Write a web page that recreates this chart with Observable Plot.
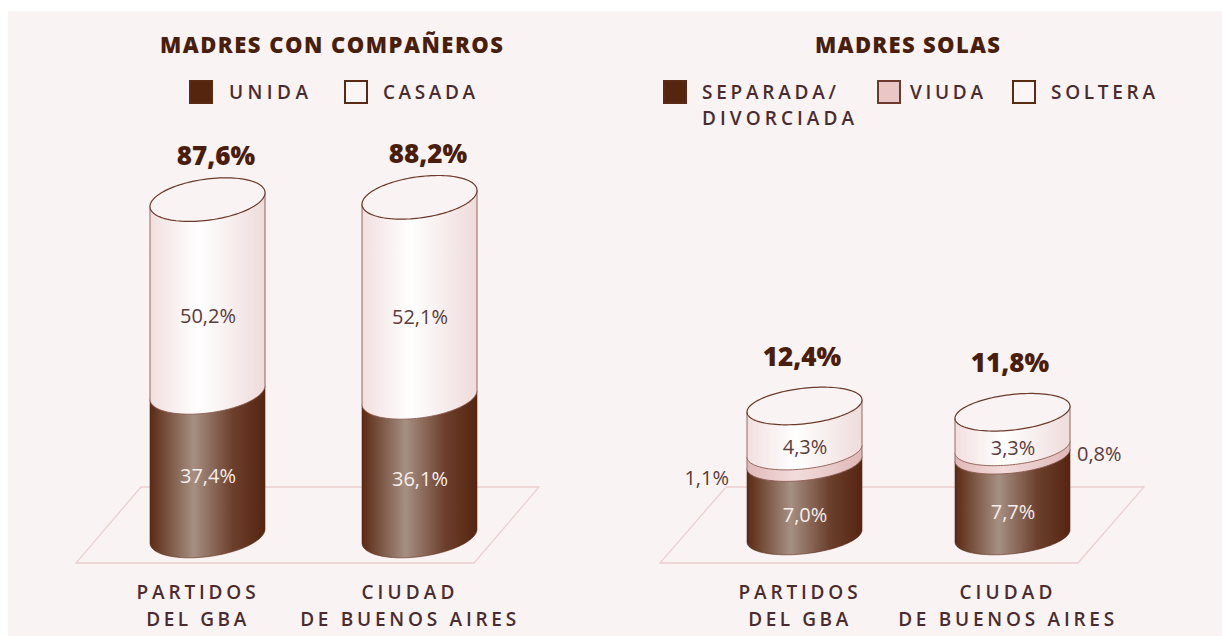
<!DOCTYPE html>
<html><head><meta charset="utf-8">
<script src="https://cdn.jsdelivr.net/npm/d3@7"></script>
<script src="https://cdn.jsdelivr.net/npm/@observablehq/plot@0.6"></script>
<style>
html,body{margin:0;padding:0;background:#fff;width:1222px;height:636px;overflow:hidden;font-family:"Open Sans",sans-serif;}
#wrap{position:absolute;left:8px;top:11px;width:1214px;height:625px;background:#f9f3f3;}
.panel{position:absolute;top:0;height:625px;}
.header{position:relative;height:124px;}
.title{position:absolute;font-weight:800;font-size:22px;color:#4a1e0c;white-space:nowrap;line-height:24px;}
.sq{position:absolute;width:24px;height:24px;box-sizing:border-box;border:2px solid #5a2a14;}
.lt{position:absolute;font-weight:600;font-size:19px;color:#4a2c30;white-space:nowrap;line-height:22px;}
</style></head>
<body>
<div id="wrap">
  <div class="panel" id="pL" style="left:0;width:603px;">
    <div class="header">
      <div class="title" data-w="343" style="left:152px;top:21px;">MADRES CON COMPAÑEROS</div>
      <div class="sq" style="left:181px;top:69px;background:#55250e;"></div>
      <div class="lt" data-w="79" style="left:221px;top:70px;">UNIDA</div>
      <div class="sq" style="left:336px;top:69px;background:#fbf5f5;"></div>
      <div class="lt" data-w="92" style="left:375px;top:70px;">CASADA</div>
    </div>
  </div>
  <div class="panel" id="pR" style="left:603px;width:611px;">
    <div class="header">
      <div class="title" data-w="185" style="left:204px;top:21px;">MADRES SOLAS</div>
      <div class="sq" style="left:52px;top:69px;background:#55250e;"></div>
      <div class="lt" data-w="134" style="left:91px;top:70px;">SEPARADA/</div>
      <div class="lt" data-w="152" style="left:91px;top:96px;">DIVORCIADA</div>
      <div class="sq" style="left:266px;top:69px;background:#e9c7c7;border-color:#6b3a2a;"></div>
      <div class="lt" data-w="73" style="left:299px;top:70px;">VIUDA</div>
      <div class="sq" style="left:401px;top:69px;background:#fbf5f5;"></div>
      <div class="lt" data-w="104" style="left:440px;top:70px;">SOLTERA</div>
    </div>
  </div>
</div>
<script>
// ---------------- DATA ----------------
const categories = ["PARTIDOS\nDEL GBA", "CIUDAD\nDE BUENOS AIRES"];

// Madres con compañeros
const companerosSeries = ["UNIDA", "CASADA"];
const companerosUnida = [37.4, 36.1];
const companerosCasada = [50.2, 52.1];
const companerosTotal = [87.6, 88.2];

// Madres solas
const solasSeries = ["SEPARADA/DIVORCIADA", "VIUDA", "SOLTERA"];
const solasSeparada = [7.0, 7.7];
const solasViuda = [1.1, 0.8];
const solasSoltera = [4.3, 3.3];
const solasTotal = [12.4, 11.8];

// ---------------- HELPERS ----------------
const fmt = v => v.toFixed(1).replace(".", ",") + "%";
const NS = "http://www.w3.org/2000/svg";
const el = n => document.createElementNS(NS, n);

const kindOf = {"UNIDA": "brown", "CASADA": "white", "SEPARADA/DIVORCIADA": "brown", "VIUDA": "pink", "SOLTERA": "white"};
const gradStops = {
  brown: [[0, "#5b2a14"], [0.38, "#a68f82"], [0.72, "#6c3f2d"], [1, "#55250f"]],
  white: [[0, "#f2dfdf"], [0.42, "#ffffff"], [1, "#efdbdb"]],
  pink: [[0, "#e1b9b9"], [0.42, "#f3dcdc"], [1, "#e0b8b8"]]
};
// measured widths (px) of the category label lines in the original
const lineWidths = {"PARTIDOS": 119, "DEL GBA": 100, "CIUDAD": 93, "DE BUENOS AIRES": 216};

function makeRows(series, arrays) {
  const rows = [];
  const base = categories.map(() => 0);
  series.forEach((s, si) => {
    categories.forEach((c, ci) => {
      const v = arrays[si][ci];
      rows.push({cat: c, ci, serie: s, kind: kindOf[s], value: v, mid: base[ci] + v / 2});
      base[ci] += v;
    });
  });
  return rows;
}

function ellipsePts(xc, cy, a, b, ka, t0, t1, n) {
  const pts = [];
  for (let s = 0; s <= n; s++) {
    const t = t0 + (t1 - t0) * s / n;
    pts.push([xc + a * Math.cos(t), cy - ka * Math.cos(t) + b * Math.sin(t)]);
  }
  return pts;
}
const pathOf = pts => "M" + pts.map(q => q[0].toFixed(2) + "," + q[1].toFixed(2)).join("L") + "Z";

function rectBox(r) {
  return {x: +r.getAttribute("x"), y: +r.getAttribute("y"), w: +r.getAttribute("width"), h: +r.getAttribute("height")};
}

function cylinderRender(cfg, rows) {
  return function(index, scales, values, dimensions, context, next) {
    const g = next(index, scales, values, dimensions, context);
    const defs = el("defs");
    for (const [k, stops] of Object.entries(gradStops)) {
      const lg = el("linearGradient");
      lg.setAttribute("id", cfg.id + "-" + k);
      lg.setAttribute("x1", "0"); lg.setAttribute("x2", "1"); lg.setAttribute("y1", "0"); lg.setAttribute("y2", "0");
      for (const [o, c] of stops) {
        const st = el("stop");
        st.setAttribute("offset", o); st.setAttribute("stop-color", c);
        lg.appendChild(st);
      }
      defs.appendChild(lg);
    }
    g.insertBefore(defs, g.firstChild);
    Array.from(g.querySelectorAll("rect")).forEach((r, j) => {
      const d = rows[index[j]];
      const {x, y, w, h} = rectBox(r);
      const a = w / 2, xc = x + a, b = a * cfg.bRatio, ka = cfg.k * a;
      const pts = [[x, y + ka], [x + w, y - ka]].concat(ellipsePts(xc, y + h, a, b, ka, 0, Math.PI, 60));
      const p = el("path");
      p.setAttribute("d", pathOf(pts));
      p.setAttribute("fill", `url(#${cfg.id}-${d.kind})`);
      if (d.kind !== "brown") { p.setAttribute("stroke", "#8a5a4e"); p.setAttribute("stroke-width", "0.9"); }
      else { p.setAttribute("stroke", "#5a2a14"); p.setAttribute("stroke-width", "0.6"); }
      r.replaceWith(p);
    });
    return g;
  };
}

function topRender(cfg) {
  return function(index, scales, values, dimensions, context, next) {
    const g = next(index, scales, values, dimensions, context);
    Array.from(g.querySelectorAll("rect")).forEach(r => {
      const {x, y, w} = rectBox(r);
      const a = w / 2, xc = x + a, b = a * cfg.bRatio, ka = cfg.k * a;
      const p = el("path");
      p.setAttribute("d", pathOf(ellipsePts(xc, y, a, b, ka, 0, 2 * Math.PI, 120)));
      p.setAttribute("fill", "#faf3f3");
      p.setAttribute("stroke", "#6b3a2a");
      p.setAttribute("stroke-width", "1.2");
      r.replaceWith(p);
    });
    return g;
  };
}

function floorRender(cfg) {
  return function(index, scales, values, dimensions, context, next) {
    const g = next(index, scales, values, dimensions, context);
    const boxes = Array.from(g.querySelectorAll("rect")).map(rectBox);
    const minX = Math.min(...boxes.map(b => b.x));
    const maxX = Math.max(...boxes.map(b => b.x + b.w));
    const y0 = boxes[0].y;
    const f = cfg.floor;
    const out = el("g");
    const p = el("path");
    p.setAttribute("d", pathOf([
      [minX + f.tl, y0 - f.up], [maxX + f.tr, y0 - f.up],
      [maxX + f.tr - f.shift, y0 + f.down], [minX + f.tl - f.shift, y0 + f.down]
    ]));
    p.setAttribute("fill", "none");
    p.setAttribute("stroke", "#ecd0d0");
    p.setAttribute("stroke-width", "1.3");
    out.appendChild(p);
    return out;
  };
}

function panel(cfg, rows, totals) {
  const totRows = categories.map((c, i) => ({cat: c, total: totals[i]}));
  const inner = rows.filter(d => !(cfg.outside && d.serie === cfg.outside));
  const outside = rows.filter(d => cfg.outside && d.serie === cfg.outside);
  const half = cfg.halfBand;
  const marks = [
    Plot.barY(categories, {x: d => d, y1: () => 0, y2: () => 0, render: floorRender(cfg)}),
    Plot.barY(rows, {x: "cat", y: "value", render: cylinderRender(cfg, rows)}),
    Plot.barY(totRows, {x: "cat", y1: "total", y2: "total", render: topRender(cfg)}),
    Plot.text(inner.filter(d => d.kind === "brown"), {x: "cat", y: "mid", text: d => fmt(d.value), dy: cfg.darkDy, fill: "#f6eeea", fontSize: 20, fontFamily: "Open Sans"}),
    Plot.text(inner.filter(d => d.kind !== "brown"), {x: "cat", y: "mid", text: d => fmt(d.value), dy: cfg.lightDy, fill: "#5b3b3b", fontSize: 20, fontFamily: "Open Sans"}),
    Plot.text(totRows, {x: "cat", y: "total", text: d => fmt(d.total), dy: cfg.totalDy, dx: cfg.totalDx, fill: "#4a1e0c", fontSize: 26, fontWeight: 800, fontFamily: "Open Sans"}),
    Plot.text(categories, {x: d => d, y: () => 0, text: d => d, dy: 67, dx: cfg.labelDx, lineAnchor: "middle", lineHeight: 1.45, fill: "#4a2c30", fontSize: 19, fontWeight: 600, fontFamily: "Open Sans"})
  ];
  if (outside.length) {
    marks.push(Plot.text(outside.filter(d => d.ci === 0), {x: "cat", y: "mid", text: d => fmt(d.value), dy: 21, dx: -(half + 18), textAnchor: "end", fill: "#5b3b3b", fontSize: 20, fontFamily: "Open Sans"}));
    marks.push(Plot.text(outside.filter(d => d.ci === 1), {x: "cat", y: "mid", text: d => fmt(d.value), dy: 3, dx: half + 6, textAnchor: "start", fill: "#5b3b3b", fontSize: 20, fontFamily: "Open Sans"}));
  }
  return Plot.plot({
    width: cfg.width, height: 501,
    marginLeft: cfg.marginLeft, marginRight: cfg.marginRight, marginTop: cfg.marginTop, marginBottom: 100,
    x: {domain: categories, padding: cfg.padding, axis: null},
    y: {domain: [0, cfg.yMax], axis: null},
    style: {background: "transparent", overflow: "visible", fontFamily: "Open Sans"},
    marks
  });
}

const leftCfg = {id: "L", width: 603, marginLeft: 45, marginRight: 37, marginTop: 17, padding: 0.4575, yMax: 100,
  bRatio: 0.36, k: 0.12, halfBand: 57.5, totalDx: 8, totalDy: -43, darkDy: 12, lightDy: 20, labelDx: -10,
  floor: {tl: -9, tr: 62, up: 49, down: 27, shift: 65}, outside: null};
const rightCfg = {id: "R", width: 611, marginLeft: 42, marginRight: 58, marginTop: 34, padding: 0.445, yMax: 35,
  bRatio: 0.31, k: 0.105, halfBand: 58, totalDx: -3, totalDy: -49, darkDy: 16, lightDy: 19, labelDx: -5,
  floor: {tl: -21, tr: 74, up: 49, down: 27, shift: 66}, outside: "VIUDA"};

const leftRows = makeRows(companerosSeries, [companerosUnida, companerosCasada]);
const rightRows = makeRows(solasSeries, [solasSeparada, solasViuda, solasSoltera]);

document.getElementById("pL").appendChild(panel(leftCfg, leftRows, companerosTotal));
document.getElementById("pR").appendChild(panel(rightCfg, rightRows, solasTotal));

// letter-spacing of the category label lines, fitted to the original widths
document.querySelectorAll("svg tspan, svg text").forEach(t => {
  const s = t.textContent;
  if (lineWidths[s] && (t.tagName === "tspan" || !t.querySelector("tspan"))) {
    t.style.letterSpacing = "0px";
    const w = t.getComputedTextLength();
    t.style.letterSpacing = ((lineWidths[s] - w) / Math.max(1, s.length - 1)) + "px";
  }
});

// fit header texts to the measured widths of the original
document.querySelectorAll("[data-w]").forEach(e => {
  const target = +e.dataset.w;
  const n = e.textContent.length;
  e.style.letterSpacing = "0px";
  const w = e.getBoundingClientRect().width;
  e.style.letterSpacing = ((target - w) / Math.max(1, n - 1)) + "px";
});
</script>
</body></html>
